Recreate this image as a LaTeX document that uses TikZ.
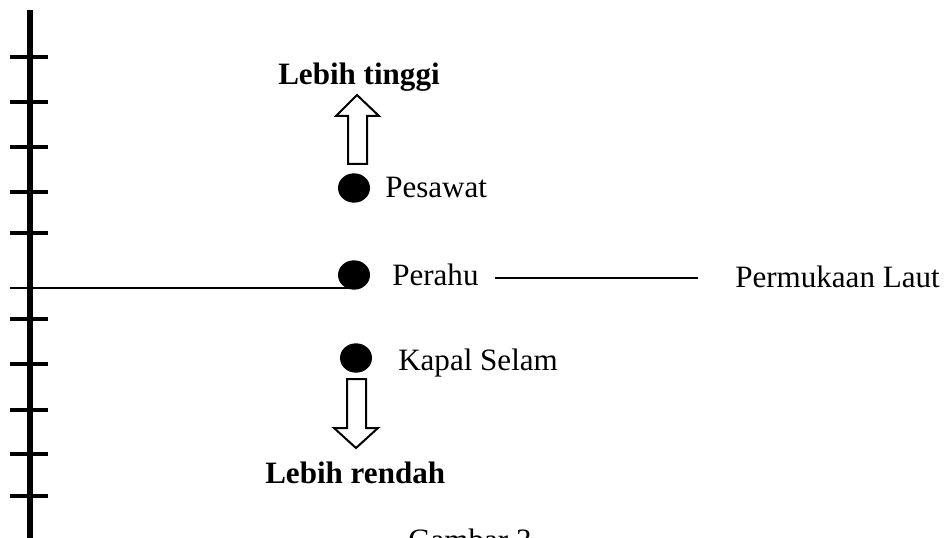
\documentclass[tikz,border=0pt]{standalone}
\usepackage{fontspec}
\setmainfont{Liberation Serif}
\usetikzlibrary{shapes.geometric}
\begin{document}
\begin{tikzpicture}[x=0.75pt,y=-0.75pt,
  lbl/.style={anchor=base west,inner sep=0pt,font=\fontsize{23.3}{28}\selectfont},
  blbl/.style={lbl,font=\fontsize{23.3}{28}\selectfont\bfseries},
  dotn/.style={ellipse,fill=black,draw=none,minimum width=24pt,minimum height=22pt,inner sep=0pt},
  tick/.style={line width=2.4pt},
  blockarrow/.style={draw=black,line width=1.5pt,fill=white,line join=miter}]
\useasboundingbox (0,0) rectangle (946,538);
% axis
\coordinate (atop) at (30,10);
\coordinate (abot) at (30,545);
\draw[line width=5.2pt] (atop) -- (abot);
\foreach \yy in {57,102,147,192,233,319,364,410,454,496}
  \draw[tick] (10,\yy) -- (48,\yy);
% dots
\node[dotn] (dot1) at (354,188) {};
\node[dotn] (dot2) at (354,275) {};
\node[dotn] (dot3) at (356,358) {};
% waterline
\coordinate (w0) at (10,288);
\draw[line width=1.5pt] (w0) -- (w0 -| dot2);
% labels
\node[blbl] (up) at (278,85) {Lebih tinggi};
\node[lbl] (pes) at (385,198) {Pesawat};
\node[lbl] (per) at (392,286) {Perahu};
\node[lbl] (laut) at (735,288) {Permukaan Laut};
\node[lbl] (kap) at (398,370) {Kapal Selam};
\node[blbl] (down) at (265,483) {Lebih rendah};
\node[lbl] (gam) at (408,550) {Gambar 3};
% connector
\coordinate (c1) at (495,278);
\coordinate (c2) at (698,278);
\draw[line width=1.5pt] (c1) -- (c2);
% up arrow
\draw[blockarrow] (348,164) -- (348,116) -- (336,116) -- (357,95) -- (379,116) -- (367,116) -- (367,164) -- cycle;
% down arrow
\draw[blockarrow] (347,379) -- (347,428) -- (334,428) -- (356,448) -- (378,428) -- (366,428) -- (366,379) -- cycle;
\end{tikzpicture}
\end{document}
